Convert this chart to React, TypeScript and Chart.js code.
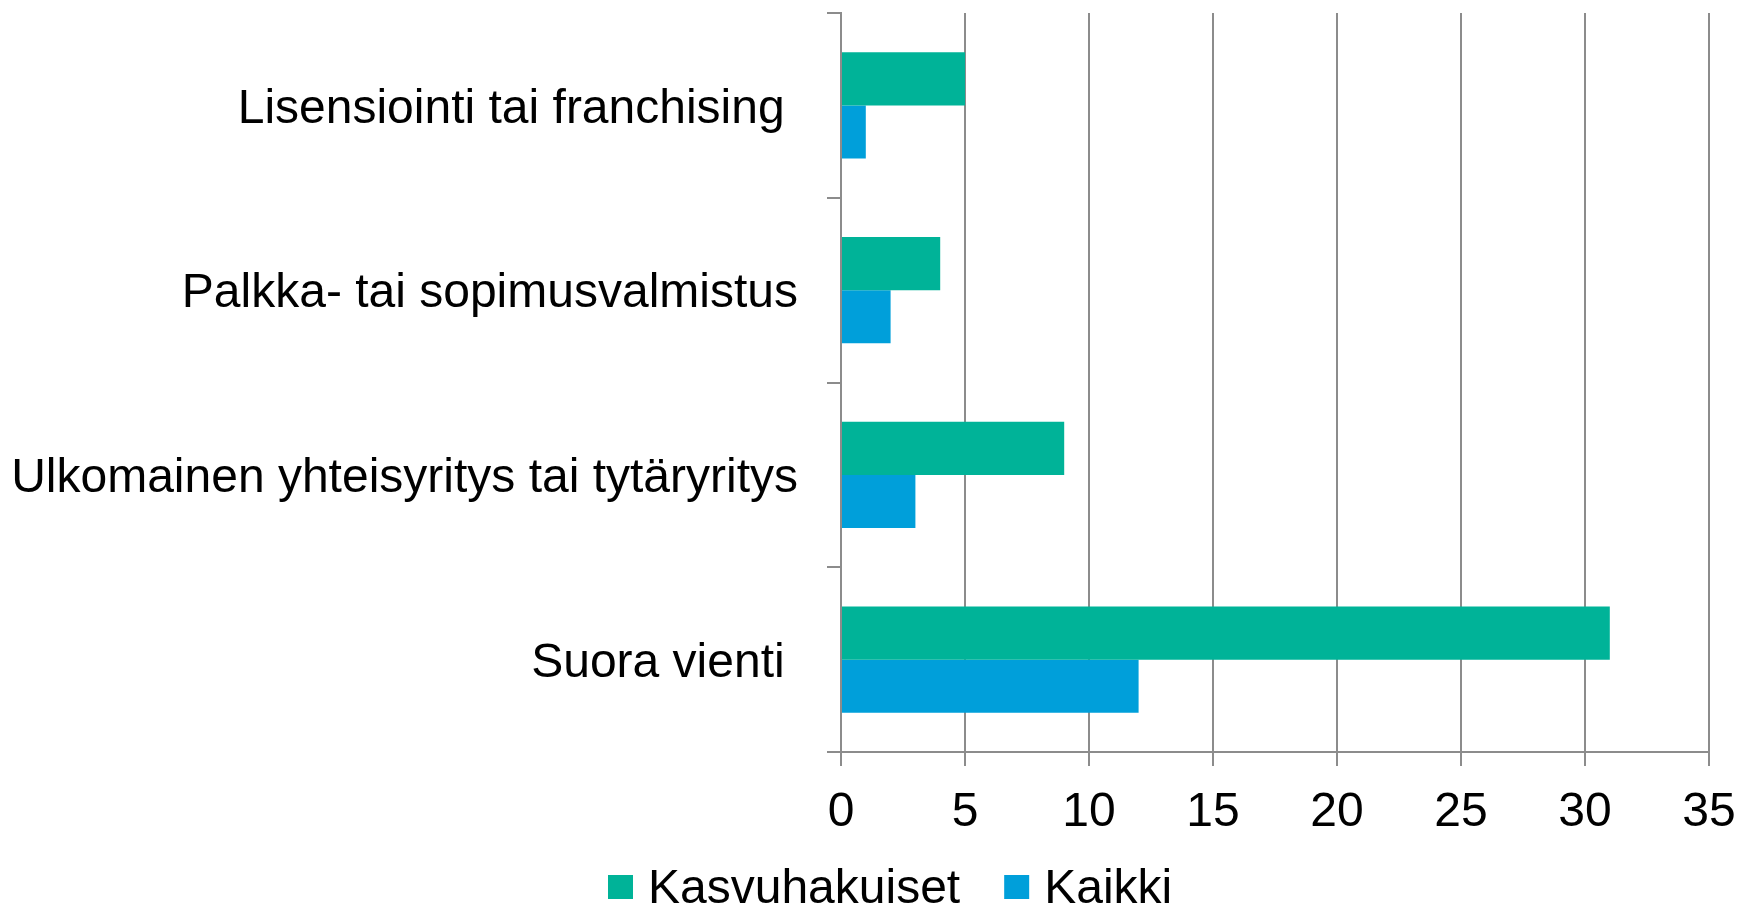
import React, { useEffect, useRef } from "react";
import { Chart, registerables } from "chart.js";

Chart.register(...registerables);

const categories = [
  "Lisensiointi tai franchising ",
  "Palkka- tai sopimusvalmistus",
  "Ulkomainen yhteisyritys tai tytäryritys",
  "Suora vienti ",
];
const kasvuhakuiset = [5, 4, 9, 31];
const kaikki = [1, 2, 3, 12];
const seriesNames = ["Kasvuhakuiset", "Kaikki"];
const seriesColors = ["#00B398", "#009FDA"];
const xTicks = { min: 0, max: 35, step: 5 };

const FONT = '"Liberation Sans", Arial, sans-serif';
const GRID = "#8C8C8C";

const legendPlugin = {
  id: "customLegend",
  afterDraw(chart: any) {
    const ctx = chart.ctx;
    ctx.save();
    ctx.font = `48px ${FONT}`;
    ctx.textBaseline = "alphabetic";
    ctx.textAlign = "left";
    let x = 608;
    chart.data.datasets.forEach((ds: any) => {
      ctx.fillStyle = ds.backgroundColor;
      ctx.fillRect(x, 875, 25, 24);
      ctx.fillStyle = "#000000";
      ctx.fillText(ds.label, x + 40, 903);
      x = x + 40 + ctx.measureText(ds.label).width + 44;
    });
    ctx.restore();
  },
};

function zeroPad(scale: any) {
  scale.paddingTop = 0;
  scale.paddingBottom = 0;
  scale.paddingLeft = 0;
  scale.paddingRight = 0;
}

export default function App() {
  const ref = useRef<HTMLCanvasElement | null>(null);
  useEffect(() => {
    if (!ref.current) return;
    const chart = new Chart(ref.current, {
      type: "bar",
      data: {
        labels: categories,
        datasets: [
          {
            label: seriesNames[0],
            data: kasvuhakuiset,
            backgroundColor: seriesColors[0],
            categoryPercentage: 0.575,
            barPercentage: 1,
          },
          {
            label: seriesNames[1],
            data: kaikki,
            backgroundColor: seriesColors[1],
            categoryPercentage: 0.575,
            barPercentage: 1,
          },
        ],
      },
      options: {
        indexAxis: "y",
        responsive: false,
        animation: false,
        layout: { padding: { top: 13, right: 30, bottom: 53, left: 0 } },
        plugins: {
          legend: { display: false },
          tooltip: { enabled: false },
        },
        scales: {
          x: {
            type: "linear",
            min: xTicks.min,
            max: xTicks.max,
            ticks: {
              stepSize: xTicks.step,
              color: "#000000",
              font: { family: FONT, size: 48 },
              padding: 18,
              maxRotation: 0,
              autoSkip: false,
            },
            grid: {
              color: GRID,
              lineWidth: 2,
              tickLength: 14,
              drawTicks: true,
            },
            border: { display: true, color: GRID, width: 2 },
            afterFit(scale: any) {
              scale.height = 100;
              zeroPad(scale);
            },
          },
          y: {
            type: "category",
            ticks: {
              color: "#000000",
              font: { family: FONT, size: 48 },
              padding: 29,
              labelOffset: 4,
            },
            grid: {
              drawOnChartArea: false,
              drawTicks: true,
              tickLength: 14,
              color: GRID,
              lineWidth: 2,
              offset: true,
            },
            border: { display: true, color: GRID, width: 2 },
            afterFit(scale: any) {
              scale.width = 841;
              zeroPad(scale);
            },
          },
        },
      },
      plugins: [legendPlugin],
    } as any);
    return () => chart.destroy();
  }, []);
  return (
    <div style={{ position: "fixed", left: 0, top: 0, width: 1739, height: 905, background: "#fff" }}>
      <canvas ref={ref} width={1739} height={905} />
    </div>
  );
}
